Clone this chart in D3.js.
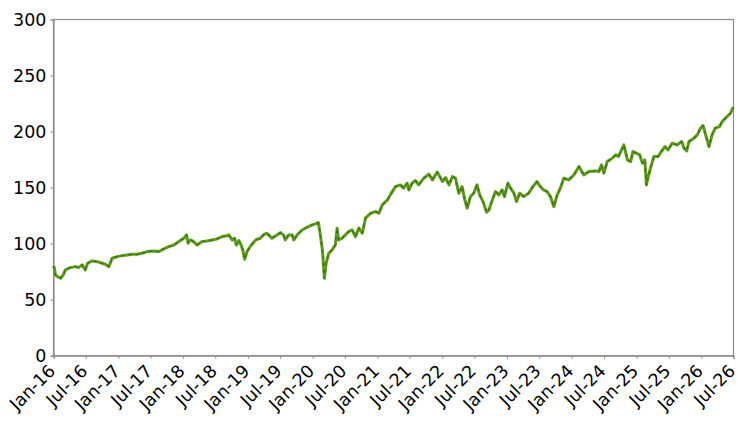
<!DOCTYPE html>
<html><head><meta charset="utf-8">
<script src="https://cdn.jsdelivr.net/npm/d3@7"></script>
<style>
html,body{margin:0;padding:0;background:#fff;}
svg text{font-family:"DejaVu Sans",sans-serif;}
</style></head>
<body><svg id="c" width="744" height="423"></svg>
<script>
const dates = ["2016-01-01","2016-01-06","2016-01-12","2016-01-25","2016-02-10","2016-02-25","2016-03-08","2016-04-05","2016-05-03","2016-05-21","2016-06-10","2016-06-28","2016-07-11","2016-08-06","2016-09-04","2016-10-02","2016-10-20","2016-11-08","2016-11-27","2016-12-25",
"2017-01-23","2017-02-21","2017-03-18","2017-04-16","2017-05-14","2017-06-12","2017-07-18","2017-08-16","2017-09-14","2017-10-12","2017-11-10","2017-12-08",
"2018-01-05","2018-01-20","2018-01-29","2018-02-12","2018-03-01","2018-03-20","2018-04-17","2018-05-15","2018-06-13","2018-07-10","2018-08-09","2018-09-07","2018-09-15","2018-10-04","2018-10-18","2018-10-28","2018-11-11","2018-11-24","2018-12-03","2018-12-14","2018-12-27",
"2019-01-16","2019-02-14","2019-03-12","2019-03-30","2019-04-19","2019-05-16","2019-06-14","2019-07-03","2019-07-21","2019-07-31","2019-08-19","2019-09-08","2019-09-17","2019-10-06","2019-11-03","2019-12-01","2019-12-29",
"2020-01-17","2020-02-02","2020-02-11","2020-02-25","2020-03-01","2020-03-07","2020-03-17","2020-04-01","2020-04-20","2020-05-08","2020-05-18","2020-05-27","2020-06-15","2020-07-04","2020-07-22","2020-08-11","2020-08-29","2020-09-18","2020-10-07","2020-10-25","2020-11-23","2020-12-21",
"2021-01-09","2021-01-28","2021-02-26","2021-03-14","2021-04-12","2021-05-10","2021-05-28","2021-06-17","2021-06-26","2021-07-15","2021-08-03","2021-08-21","2021-09-19","2021-10-17","2021-11-06","2021-12-04",
"2022-01-02","2022-01-20","2022-02-08","2022-02-27","2022-03-16","2022-04-04","2022-04-23","2022-05-06","2022-05-21","2022-06-09","2022-06-27","2022-07-16","2022-07-31","2022-08-19","2022-09-08","2022-09-21","2022-10-10","2022-10-28","2022-11-16","2022-12-05","2022-12-18",
"2023-01-06","2023-01-21","2023-02-09","2023-02-24","2023-03-13","2023-04-05","2023-05-03","2023-05-27","2023-06-19","2023-07-08","2023-07-26","2023-08-15","2023-09-03","2023-09-22","2023-10-11","2023-10-29","2023-11-17","2023-12-15",
"2024-01-13","2024-02-11","2024-03-09","2024-04-07","2024-05-14","2024-06-02","2024-06-17","2024-06-30","2024-07-19","2024-08-17","2024-09-05","2024-09-20","2024-10-03","2024-10-21","2024-11-10","2024-11-28","2024-12-11","2024-12-30",
"2025-01-18","2025-02-03","2025-02-16","2025-02-25","2025-03-07","2025-03-20","2025-04-08","2025-05-02","2025-05-20","2025-06-09","2025-06-28","2025-07-20","2025-08-18","2025-09-12","2025-09-25","2025-10-10","2025-10-23","2025-11-20","2025-12-09","2025-12-27",
"2026-01-10","2026-01-25","2026-02-13","2026-03-02","2026-03-20","2026-04-13","2026-04-28","2026-05-26","2026-06-14","2026-06-27","2026-07-01"];
const values = [80,78.0,72.1,70.5,69.1,72.1,76.5,78.6,79.5,78.6,81.0,76.5,82.5,84.6,83.9,82.5,81.6,79.5,87.0,88.4,
89.3,89.9,90.5,90.5,91.4,92.9,93.5,92.9,95.3,97.3,98.8,101.8,
104.8,107.8,100.4,103.3,101.8,98.8,101.8,102.4,103.3,104.2,106.3,107.1,107.8,103.3,104.8,98.8,102.7,98.8,94.4,86.1,92.9,
97.9,103.3,104.8,107.8,109.3,104.8,107.8,109.8,107.8,103.3,107.8,107.8,103.3,107.8,112.2,114.6,116.7,
117.6,118.8,110.7,94.4,83.9,69.1,82.5,91.4,94.4,98.8,113.8,103.3,104.8,107.8,110.7,112.2,106.3,113.8,109.3,122.7,127.1,128.6,
127.1,134.6,139.0,143.5,150.9,152.4,149.5,153.9,147.9,153.9,156.3,152.4,158.4,162.0,156.9,163.8,
155.4,158.9,152.4,159.8,158.4,145.0,150.9,140.5,131.6,142.0,145.0,152.4,143.5,137.5,128.0,130.1,139.0,146.4,143.5,147.9,142.0,
153.9,149.5,145.0,137.5,145.0,142.0,145.0,150.9,155.4,150.9,147.9,146.4,142.0,133.0,143.5,149.5,158.4,156.9,
161.3,168.8,161.3,164.3,164.9,164.3,170.3,162.9,173.2,176.3,179.2,177.7,182.1,188.1,174.7,173.2,182.1,180.7,
179.2,171.8,174.7,152.4,159.8,167.3,177.7,177.7,182.1,186.6,183.7,189.6,188.1,191.1,185.2,182.8,191.1,194.1,197.1,203.0,
205.4,197.1,186.6,197.1,203.0,204.5,208.9,213.4,216.4,220.9,221.5];
const yTicks = [0,50,100,150,200,250,300];
const xTickLabels = ["Jan-16","Jul-16","Jan-17","Jul-17","Jan-18","Jul-18","Jan-19","Jul-19","Jan-20","Jul-20","Jan-21","Jul-21","Jan-22","Jul-22","Jan-23","Jul-23","Jan-24","Jul-24","Jan-25","Jul-25","Jan-26","Jul-26"];

const parse = d3.timeParse("%Y-%m-%d");
const data = dates.map((d,i)=>({date:parse(d), v:values[i]}));
const tickDates = xTickLabels.map(s=>d3.timeParse("%b-%y")(s));

const m = {l:53.5, r:733.5, t:19.5, b:355.7};
const svg = d3.select("#c");
const x = d3.scaleTime().domain([tickDates[0], tickDates[tickDates.length-1]]).range([m.l, m.r]);
const y = d3.scaleLinear().domain([0,300]).range([m.b, m.t]);

// frame
svg.append("rect").attr("x",m.l).attr("y",m.t).attr("width",m.r-m.l).attr("height",m.b-m.t)
  .attr("fill","none").attr("stroke","#8c8c8c").attr("stroke-width",1.2);

const yAxis = svg.append("g").attr("transform",`translate(${m.l},0)`)
  .call(d3.axisLeft(y).tickValues(yTicks).tickSize(3).tickPadding(4));
const xAxis = svg.append("g").attr("transform",`translate(0,${m.b})`)
  .call(d3.axisBottom(x).tickValues(tickDates).tickSize(3).tickFormat((d,i)=>xTickLabels[i]));
[yAxis,xAxis].forEach(g=>{
  g.select(".domain").attr("stroke","#8c8c8c").attr("stroke-width",1.2);
  g.selectAll(".tick line").attr("stroke","#8c8c8c");
  g.selectAll("text").attr("fill","#000").style("font-size","17.5px").style("font-family","DejaVu Sans, sans-serif");
});
xAxis.selectAll("text").attr("text-anchor","end").attr("dy","0.35em").attr("y",0)
  .attr("transform","translate(-2,12) rotate(-45)");

const line = d3.line().x(d=>x(d.date)).y(d=>y(d.v));
svg.append("path").datum(data).attr("d",line).attr("fill","none")
  .attr("stroke","#5a9a16").attr("stroke-width",3).attr("stroke-linejoin","round");
svg.append("path").datum(data).attr("d",line).attr("fill","none")
  .attr("stroke","#3c7009").attr("stroke-width",1.2).attr("stroke-dasharray","3,4").attr("stroke-linejoin","round");
</script></body></html>
